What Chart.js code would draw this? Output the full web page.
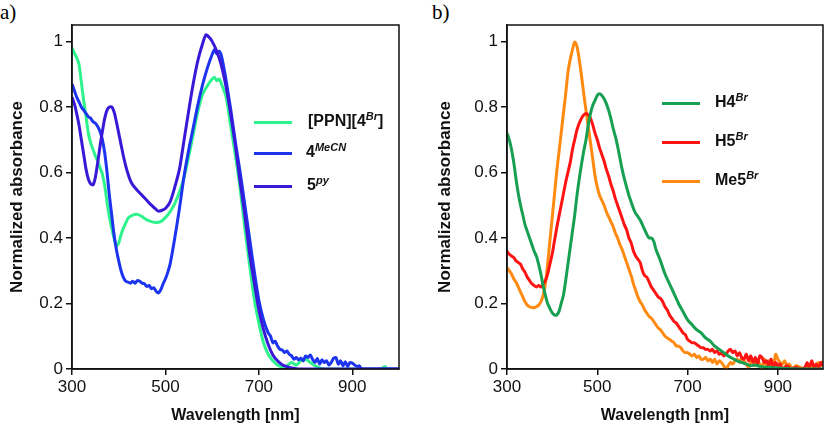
<!DOCTYPE html>
<html lang="en">
<head>
<meta charset="UTF-8">
<title>Normalized absorbance spectra</title>
<script src="https://cdn.jsdelivr.net/npm/chart.js"></script>
<style>
  body { margin:0; background:#fff; width:825px; height:426px; position:relative; overflow:hidden;
         font-family:"Liberation Sans", Arial, sans-serif; }
  canvas { position:absolute; top:0; }
  #chartA { left:0; }
  #chartB { left:412px; }
  .panel { position:absolute; top:0; font-family:"Liberation Serif", "Times New Roman", serif; font-size:21px; }
  .leg { position:absolute; height:0; }
  .leg .line { position:absolute; left:0; top:-1.5px; width:38px; height:3px; }
  .leg .txt { position:absolute; top:-11px; font-weight:bold; font-size:16px; line-height:20px; white-space:nowrap; color:#111; }
  .leg sup { font-style:italic; font-size:11px; vertical-align:6px; line-height:0; }
</style>
</head>
<body>
<div class="panel" style="left:0px">a)</div>
<div class="panel" style="left:432px">b)</div>
<canvas id="chartA" width="412" height="426"></canvas>
<canvas id="chartB" width="413" height="426"></canvas>

<div class="leg" style="left:254px;top:122px"><div class="line" style="background:#2ef28c"></div><div class="txt" style="left:54px">[PPN][4<sup>Br</sup>]</div></div>
<div class="leg" style="left:254px;top:153px"><div class="line" style="background:#1c34ee"></div><div class="txt" style="left:52px">4<sup>MeCN</sup></div></div>
<div class="leg" style="left:254px;top:186px"><div class="line" style="background:#3a18d8"></div><div class="txt" style="left:53px">5<sup>py</sup></div></div>

<div class="leg" style="left:662px;top:103px"><div class="line" style="background:#17a052"></div><div class="txt" style="left:53px">H4<sup>Br</sup></div></div>
<div class="leg" style="left:662px;top:142px"><div class="line" style="background:#ff1414"></div><div class="txt" style="left:53px">H5<sup>Br</sup></div></div>
<div class="leg" style="left:662px;top:181px"><div class="line" style="background:#ff8a12"></div><div class="txt" style="left:53px">Me5<sup>Br</sup></div></div>

<script>
// axes
const xTicks = [300, 500, 700, 900];
const xTickLabels = ['300', '500', '700', '900'];
const yTicks = [0, 0.2, 0.4, 0.6, 0.8, 1];
const yTickLabels = ['0', '0.2', '0.4', '0.6', '0.8', '1'];

// panel a) [PPN][4Br]
const ppnNm  = [300,305,310,315,320,325,330,335,340,345,350,355,360,365,370,375,380,385,390,395,400,405,410,415,420,430,440,450,460,470,480,490,500,510,520,530,540,550,560,570,580,590,600,605,610,615,620,630,640,650,660,670,680,690,700,710,720,730,740,750,760,770,780,790,800,810,820,830,840,900,960,970,975,1000];
const ppnAbs = [0.98,0.965,0.95,0.93,0.875,0.82,0.77,0.72,0.69,0.67,0.65,0.635,0.615,0.595,0.56,0.51,0.465,0.43,0.40,0.375,0.385,0.41,0.43,0.445,0.46,0.47,0.472,0.465,0.455,0.45,0.447,0.45,0.462,0.48,0.505,0.54,0.585,0.65,0.72,0.79,0.84,0.865,0.885,0.89,0.88,0.885,0.87,0.83,0.74,0.65,0.55,0.43,0.32,0.215,0.14,0.08,0.045,0.025,0.012,0.006,0.01,0.02,0.012,0.025,0.03,0.02,0.01,0.004,0,0,0,0.008,0,0];

// panel a) 4MeCN
const mecnNm  = [300,305,310,315,320,325,330,335,340,345,350,355,360,365,370,375,380,385,390,395,400,405,410,415,420,425,430,435,440,445,450,455,460,465,470,475,480,485,490,495,500,505,510,520,530,540,550,560,570,580,590,600,605,610,615,620,625,630,640,650,660,670,680,690,700,710,720,725,730,735,740,745,750,755,760,765,770,775,780,785,790,795,800,805,810,815,820,825,830,835,840,845,850,855,860,865,870,875,880,885,890,895,900,905,910,915,920,1000];
const mecnAbs = [0.87,0.85,0.83,0.815,0.80,0.79,0.78,0.77,0.765,0.755,0.75,0.74,0.725,0.70,0.66,0.60,0.53,0.47,0.41,0.365,0.33,0.30,0.28,0.268,0.265,0.262,0.268,0.262,0.27,0.268,0.262,0.26,0.252,0.255,0.245,0.248,0.238,0.232,0.242,0.26,0.275,0.295,0.32,0.40,0.49,0.59,0.67,0.74,0.81,0.87,0.92,0.96,0.975,0.962,0.97,0.955,0.92,0.88,0.79,0.69,0.60,0.50,0.40,0.30,0.21,0.15,0.11,0.10,0.08,0.085,0.07,0.06,0.058,0.05,0.055,0.045,0.04,0.03,0.035,0.028,0.033,0.025,0.04,0.035,0.043,0.03,0.02,0.032,0.015,0.028,0.02,0.025,0.012,0.02,0.033,0.035,0.015,0.025,0.01,0.022,0.008,0.02,0.018,0.012,0.008,0.01,0,0];

// panel a) 5py
const pyNm  = [300,305,310,315,320,325,330,335,340,345,350,355,360,365,370,375,380,385,390,395,400,405,410,415,420,425,430,440,450,460,470,480,485,490,500,510,520,530,540,550,560,570,580,587,595,600,610,620,630,640,650,660,670,680,690,700,710,720,730,740,750,760,770,780,790,1000];
const pyAbs = [0.83,0.81,0.78,0.745,0.70,0.655,0.61,0.58,0.565,0.562,0.585,0.63,0.68,0.725,0.765,0.79,0.80,0.80,0.785,0.755,0.72,0.685,0.65,0.62,0.595,0.575,0.562,0.545,0.53,0.515,0.50,0.487,0.482,0.483,0.49,0.51,0.555,0.61,0.70,0.79,0.875,0.945,0.995,1.02,1.01,1.0,0.97,0.925,0.86,0.775,0.68,0.57,0.47,0.355,0.265,0.18,0.12,0.075,0.043,0.025,0.013,0.007,0.003,0.001,0,0];

// panel b) H4Br
const h4Nm  = [300,305,310,315,320,325,330,335,340,345,350,355,360,365,370,375,380,385,390,395,400,405,410,415,420,425,430,435,440,445,450,455,460,465,470,475,480,485,490,495,500,505,510,515,520,525,530,535,540,545,550,555,560,565,570,575,580,585,590,595,600,605,610,615,620,625,630,640,650,660,670,680,690,700,710,720,730,740,750,760,770,780,790,800,810,820,830,840,850,860,880,900,950,1000];
const h4Abs = [0.72,0.70,0.67,0.63,0.58,0.535,0.50,0.47,0.44,0.42,0.40,0.38,0.36,0.345,0.32,0.29,0.255,0.225,0.20,0.185,0.172,0.165,0.165,0.175,0.20,0.225,0.27,0.32,0.37,0.42,0.47,0.53,0.58,0.625,0.665,0.70,0.745,0.78,0.805,0.82,0.835,0.84,0.835,0.825,0.81,0.79,0.765,0.735,0.71,0.68,0.645,0.61,0.58,0.555,0.53,0.51,0.49,0.475,0.465,0.455,0.44,0.425,0.41,0.40,0.40,0.39,0.365,0.33,0.29,0.26,0.23,0.20,0.175,0.15,0.135,0.12,0.11,0.095,0.085,0.07,0.06,0.05,0.04,0.032,0.025,0.02,0.015,0.01,0.012,0.008,0.005,0.003,0,0];

// panel b) H5Br
const h5Nm  = [300,305,310,315,320,325,330,335,340,345,350,355,360,365,370,375,380,385,390,395,400,405,410,415,420,425,430,435,440,445,450,455,460,465,470,475,480,485,490,495,500,505,510,515,520,525,530,535,540,545,550,555,560,565,570,575,580,585,590,595,600,605,610,615,620,625,630,635,640,645,650,655,660,665,670,675,680,685,690,695,700,705,710,715,720,725,730,735,740,745,750,755,760,765,770,775,780,785,790,795,800,805,810,815,820,825,830,835,840,845,850,855,860,865,870,875,880,885,890,895,900,905,910,920,930,940,950,960,965,970,975,980,985,990,995,1000];
const h5Abs = [0.36,0.35,0.345,0.34,0.33,0.325,0.32,0.305,0.295,0.28,0.27,0.26,0.255,0.25,0.255,0.25,0.26,0.27,0.29,0.32,0.35,0.39,0.43,0.465,0.50,0.535,0.57,0.60,0.63,0.67,0.70,0.73,0.75,0.765,0.775,0.78,0.775,0.765,0.745,0.72,0.70,0.675,0.655,0.635,0.61,0.59,0.565,0.545,0.52,0.50,0.48,0.46,0.44,0.425,0.40,0.385,0.36,0.345,0.335,0.325,0.30,0.285,0.28,0.265,0.25,0.24,0.23,0.22,0.215,0.205,0.19,0.18,0.165,0.155,0.145,0.14,0.13,0.12,0.11,0.105,0.09,0.085,0.08,0.08,0.075,0.07,0.065,0.065,0.06,0.06,0.055,0.06,0.05,0.055,0.045,0.05,0.04,0.045,0.055,0.06,0.05,0.055,0.04,0.05,0.035,0.03,0.045,0.025,0.04,0.02,0.035,0.015,0.04,0.035,0.02,0.025,0.01,0.03,0.005,0.02,0.01,0.015,0,0.01,0,0.005,0,0.005,0.02,0.005,0.025,0.005,0.015,0,0.02,0.01];

// panel b) Me5Br
const me5Nm  = [300,305,310,315,320,325,330,335,340,345,350,355,360,365,370,375,380,385,390,395,400,405,410,415,420,425,430,435,440,445,450,455,460,465,470,475,480,485,490,495,500,505,510,515,520,525,530,535,540,545,550,555,560,565,570,575,580,585,590,595,600,605,610,615,620,625,630,635,640,645,650,655,660,665,670,675,680,685,690,695,700,705,710,715,720,725,730,735,740,745,750,755,760,765,770,775,780,785,790,795,800,805,810,815,820,825,830,835,840,845,850,855,860,865,870,875,880,885,890,895,900,905,910,915,920,925,930,935,940,950,960,970,980,990,995,1000];
const me5Abs = [0.31,0.30,0.29,0.275,0.265,0.25,0.235,0.22,0.205,0.195,0.19,0.188,0.187,0.19,0.195,0.205,0.225,0.26,0.32,0.39,0.46,0.53,0.60,0.66,0.72,0.78,0.84,0.905,0.945,0.975,0.998,0.985,0.945,0.895,0.84,0.79,0.74,0.69,0.64,0.59,0.555,0.53,0.515,0.50,0.48,0.465,0.45,0.435,0.415,0.40,0.38,0.365,0.345,0.325,0.305,0.285,0.26,0.24,0.22,0.205,0.195,0.18,0.17,0.16,0.155,0.145,0.135,0.125,0.12,0.11,0.10,0.095,0.09,0.085,0.08,0.07,0.07,0.065,0.055,0.05,0.05,0.045,0.04,0.045,0.035,0.04,0.03,0.03,0.035,0.025,0.03,0.02,0.03,0.015,0.025,0.02,0.01,0,0.01,0.02,0.015,0.025,0.03,0.02,0.035,0.025,0.015,0.005,0.02,0.03,0.01,0.025,0.015,0,0.03,0.01,0.025,0.015,0.005,0.045,0.03,0.02,0.015,0.025,0.01,0.015,0.005,0,0.01,0.005,0,0.01,0,0.02,0.01,0.025];

Chart.defaults.font.family = "'Liberation Sans', Arial, sans-serif";
Chart.defaults.color = '#111';

function serie(label, nm, abs, color, order) {
  return {
    label: label,
    data: nm.map((x, i) => ({ x: x, y: abs[i] })),
    borderColor: color,
    backgroundColor: color,
    borderWidth: 3,
    pointRadius: 0,
    tension: 0.25,
    order: order
  };
}

// moldura preta em volta da area do grafico
const moldura = {
  id: 'moldura',
  afterDraw(chart) {
    const a = chart.chartArea, ctx = chart.ctx;
    ctx.save();
    ctx.strokeStyle = '#111';
    ctx.lineWidth = 1.5;
    ctx.strokeRect(a.left, a.top, a.right - a.left, a.bottom - a.top);
    ctx.restore();
  }
};

function montar(id, datasets, padLeft, padRight, yWidth) {
  return new Chart(document.getElementById(id), {
    type: 'line',
    data: { datasets: datasets },
    plugins: [moldura],
    options: {
      responsive: false,
      animation: false,
      devicePixelRatio: 1,
      layout: { padding: { left: padLeft, right: padRight, top: 25, bottom: 0 } },
      plugins: { legend: { display: false }, tooltip: { enabled: false } },
      scales: {
        x: {
          type: 'linear', min: 300, max: 1000,
          afterBuildTicks: s => { s.ticks = xTicks.map(v => ({ value: v })); },
          afterFit: s => { s.height = 57; },
          ticks: { font: { size: 17 }, padding: 2, maxRotation: 0,
                   callback: v => xTickLabels[xTicks.indexOf(v)] },
          grid: { display: true, drawOnChartArea: false, drawTicks: true, tickLength: 6, color: '#111', lineWidth: 1.5 },
          border: { display: true, color: '#111', width: 1.5 },
          title: { display: true, text: 'Wavelength [nm]', font: { size: 16, weight: 'bold' }, padding: { top: 0, bottom: 1 } }
        },
        y: {
          type: 'linear', min: 0, max: 1.05,
          afterBuildTicks: s => { s.ticks = yTicks.map(v => ({ value: v })); },
          afterFit: s => { s.width = yWidth; },
          ticks: { font: { size: 17 }, padding: 3,
                   callback: v => yTickLabels[yTicks.indexOf(v)] },
          grid: { display: true, drawOnChartArea: false, drawTicks: true, tickLength: 6, color: '#111', lineWidth: 1.5 },
          border: { display: true, color: '#111', width: 1.5 },
          title: { display: true, text: 'Normalized absorbance', font: { size: 17, weight: 'bold' }, padding: { top: 7, bottom: 0 } }
        }
      }
    }
  });
}

montar('chartA', [
  serie('5py', pyNm, pyAbs, '#3a18d8', 1),
  serie('4MeCN', mecnNm, mecnAbs, '#1c34ee', 2),
  serie('[PPN][4Br]', ppnNm, ppnAbs, '#2ef28c', 3)
], 0, 13, 72);

montar('chartB', [
  serie('Me5Br', me5Nm, me5Abs, '#ff8a12', 3),
  serie('H5Br', h5Nm, h5Abs, '#ff1414', 2),
  serie('H4Br', h4Nm, h4Abs, '#17a052', 1)
], 16, 2, 79);
</script>
</body>
</html>
